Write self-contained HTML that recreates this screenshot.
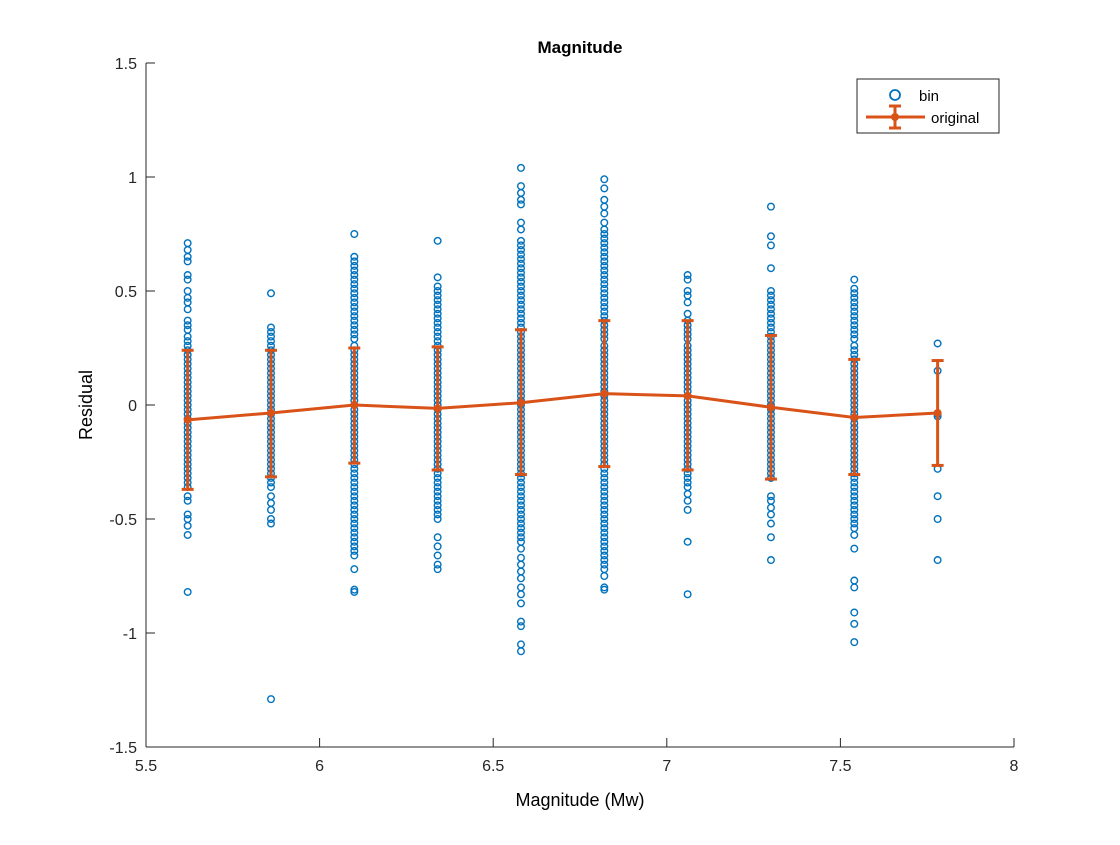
<!DOCTYPE html>
<html><head><meta charset="utf-8"><style>
body{margin:0;background:#fff;}
svg text{font-family:"Liberation Sans",sans-serif;}
</style></head><body>
<svg id="chart" width="1120" height="840" xmlns="http://www.w3.org/2000/svg">
<rect width="1120" height="840" fill="#fff"/>
<g id="plot"></g>
<g id="axes"></g>
<text x="580" y="53" text-anchor="middle" font-size="17" font-weight="bold">Magnitude</text>
<text x="580" y="806" text-anchor="middle" font-size="18">Magnitude (Mw)</text>
<text transform="translate(92,405) rotate(-90)" text-anchor="middle" font-size="18">Residual</text>
<g>
<rect x="857" y="79" width="142" height="54" fill="#fff" stroke="#262626" stroke-width="1"/>
<circle cx="895" cy="95" r="5" fill="none" stroke="#0072bd" stroke-width="1.8"/>
<text x="919" y="101" font-size="15">bin</text>
<line x1="866" y1="117" x2="925" y2="117" stroke="#d95319" stroke-width="3"/>
<line x1="895" y1="106" x2="895" y2="128" stroke="#d95319" stroke-width="3"/>
<line x1="889" y1="106" x2="901" y2="106" stroke="#d95319" stroke-width="3"/>
<line x1="889" y1="128" x2="901" y2="128" stroke="#d95319" stroke-width="3"/>
<circle cx="895" cy="117" r="4" fill="#d95319"/>
<text x="931" y="123" font-size="15">original</text>
</g>
</svg>
<script>
const binCenters=[5.62,5.86,6.10,6.34,6.58,6.82,7.06,7.30,7.54,7.78];
const means=[-0.065,-0.035,0,-0.015,0.01,0.05,0.04,-0.01,-0.055,-0.035];
const upper=[0.24,0.24,0.25,0.255,0.33,0.37,0.37,0.305,0.2,0.195];
const lower=[-0.37,-0.315,-0.255,-0.285,-0.305,-0.27,-0.285,-0.325,-0.305,-0.265];
const xTicks=[5.5,6,6.5,7,7.5,8];
const xTickLabels=["5.5","6","6.5","7","7.5","8"];
const yTicks=[-1.5,-1,-0.5,0,0.5,1,1.5];
const yTickLabels=["-1.5","-1","-0.5","0","0.5","1","1.5"];
const core=[0.26,0.24,0.22,0.2,0.18,0.16,0.14,0.12,0.1,0.08,0.06,0.04,0.02,0,-0.02,-0.04,-0.06,-0.08,-0.1,-0.12,-0.14,-0.16,-0.18,-0.2,-0.22,-0.24,-0.26,-0.28];
const binPoints=[
[0.71,0.68,0.65,0.63,0.57,0.55,0.5,0.47,0.45,0.42,0.37,0.35,0.33,0.3,0.28,-0.3,-0.32,-0.34,-0.36,-0.4,-0.42,-0.48,-0.5,-0.53,-0.57,-0.82],
[0.49,0.34,0.32,0.3,0.28,-0.3,-0.32,-0.34,-0.36,-0.4,-0.43,-0.46,-0.5,-0.52,-1.29],
[0.75,0.65,0.63,0.61,0.59,0.57,0.55,0.53,0.51,0.49,0.47,0.45,0.43,0.41,0.39,0.37,0.35,0.33,0.31,0.29,-0.3,-0.32,-0.34,-0.36,-0.38,-0.4,-0.42,-0.44,-0.46,-0.48,-0.5,-0.52,-0.54,-0.56,-0.58,-0.6,-0.62,-0.64,-0.66,-0.72,-0.81,-0.82],
[0.72,0.56,0.52,0.5,0.48,0.46,0.44,0.42,0.4,0.38,0.36,0.34,0.32,0.3,0.28,-0.3,-0.32,-0.34,-0.36,-0.38,-0.4,-0.42,-0.44,-0.46,-0.48,-0.5,-0.58,-0.62,-0.66,-0.7,-0.72],
[1.04,0.96,0.93,0.9,0.88,0.8,0.77,0.72,0.7,0.68,0.66,0.64,0.62,0.6,0.58,0.56,0.54,0.52,0.5,0.48,0.46,0.44,0.42,0.4,0.38,0.36,0.34,0.32,0.3,0.28,-0.3,-0.32,-0.34,-0.36,-0.38,-0.4,-0.42,-0.44,-0.46,-0.48,-0.5,-0.52,-0.54,-0.56,-0.58,-0.6,-0.63,-0.67,-0.7,-0.73,-0.76,-0.8,-0.83,-0.87,-0.95,-0.97,-1.05,-1.08],
[0.99,0.95,0.9,0.87,0.84,0.8,0.77,0.75,0.73,0.71,0.69,0.67,0.65,0.63,0.61,0.59,0.57,0.55,0.53,0.51,0.49,0.47,0.45,0.43,0.41,0.39,0.37,0.35,0.33,0.31,0.29,-0.3,-0.32,-0.34,-0.36,-0.38,-0.4,-0.42,-0.44,-0.46,-0.48,-0.5,-0.52,-0.54,-0.56,-0.58,-0.6,-0.62,-0.64,-0.66,-0.68,-0.7,-0.72,-0.75,-0.8,-0.81],
[0.57,0.55,0.5,0.48,0.45,0.4,0.37,0.35,0.33,0.31,0.29,-0.3,-0.32,-0.34,-0.36,-0.39,-0.42,-0.46,-0.6,-0.83],
[0.87,0.74,0.7,0.6,0.5,0.48,0.46,0.44,0.42,0.4,0.38,0.36,0.34,0.32,0.3,0.28,-0.3,-0.32,-0.4,-0.42,-0.45,-0.48,-0.52,-0.58,-0.68],
[0.55,0.51,0.49,0.47,0.45,0.43,0.41,0.39,0.37,0.35,0.33,0.31,0.29,-0.3,-0.32,-0.34,-0.36,-0.38,-0.4,-0.42,-0.44,-0.46,-0.48,-0.5,-0.52,-0.54,-0.57,-0.63,-0.77,-0.8,-0.91,-0.96,-1.04],
[0.27,0.15,-0.04,-0.05,-0.28,-0.4,-0.5,-0.68]
];
const X0=146,X1=1014,Y0=747,Y1=63;
const xs=v=>X0+(v-5.5)/2.5*(X1-X0);
const ys=v=>Y0-(v+1.5)/3*(Y0-Y1);
const NS="http://www.w3.org/2000/svg";
const plot=document.getElementById('plot'),axes=document.getElementById('axes');
function mk(tag,attrs,parent){const e=document.createElementNS(NS,tag);for(const k in attrs)e.setAttribute(k,attrs[k]);parent.appendChild(e);return e;}
let a=mk('line',{x1:X0,y1:Y0,x2:X1,y2:Y0,stroke:'#262626','stroke-width':1},axes);


a=mk('line',{x1:X0,y1:Y0,x2:X0,y2:Y1,stroke:'#262626','stroke-width':1},axes);


xTicks.forEach((t,i)=>{const x=xs(t);mk('line',{x1:x,y1:Y0,x2:x,y2:Y0-9,stroke:'#262626'},axes);
const tx=mk('text',{x:x,y:Y0+24,'text-anchor':'middle','font-size':16,fill:'#262626'},axes);tx.textContent=xTickLabels[i];

});
yTicks.forEach((t,i)=>{const y=ys(t);mk('line',{x1:X0,y1:y,x2:X0+9,y2:y,stroke:'#262626'},axes);
const tx=mk('text',{x:X0-9,y:y+6,'text-anchor':'end','font-size':16,fill:'#262626'},axes);tx.textContent=yTickLabels[i];

});
binCenters.forEach((c,i)=>{let pts=binPoints[i];if(i<9)pts=pts.concat(core);
pts.forEach(v=>{const p=mk('circle',{cx:xs(c),cy:ys(v),r:3.3,fill:'none',stroke:'#0072bd','stroke-width':1.4},plot);

});});
const d=binCenters.map((c,i)=>(i?'L':'M')+xs(c)+' '+ys(means[i])).join(' ');
const ln=mk('path',{d:d,fill:'none',stroke:'#d95319','stroke-width':3},plot);


binCenters.forEach((c,i)=>{const x=xs(c);const g=mk('g',{stroke:'#d95319','stroke-width':3},plot);


mk('line',{x1:x,y1:ys(upper[i]),x2:x,y2:ys(lower[i])},g);
mk('line',{x1:x-6,y1:ys(upper[i]),x2:x+6,y2:ys(upper[i])},g);
mk('line',{x1:x-6,y1:ys(lower[i]),x2:x+6,y2:ys(lower[i])},g);
mk('circle',{cx:x,cy:ys(means[i]),r:4,fill:'#d95319',stroke:'none'},g);});
</script>
</body></html>
